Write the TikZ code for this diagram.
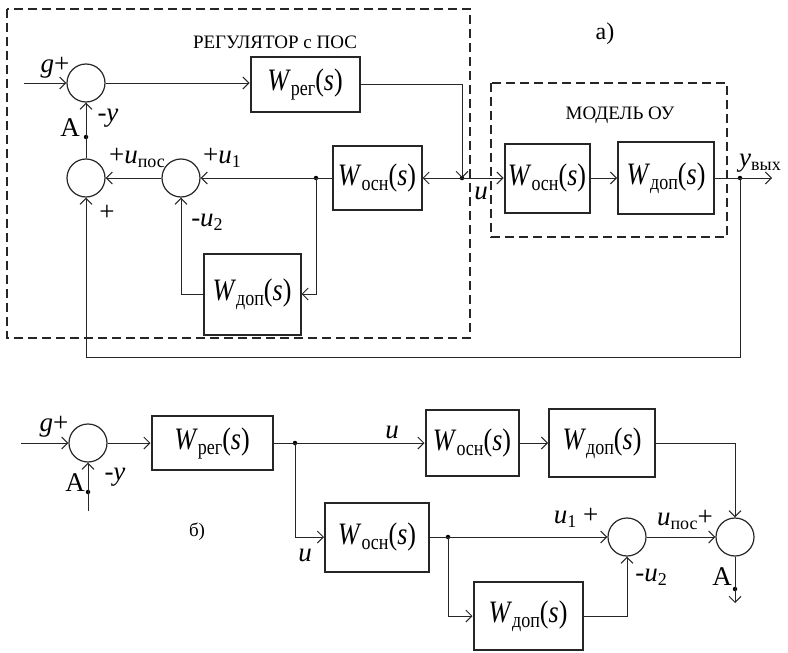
\documentclass[tikz,border=0pt]{standalone}
\usepackage{fontspec}
\setmainfont{Liberation Serif}
\usetikzlibrary{arrows.meta}
\newcommand{\lsub}[1]{\raisebox{-0.35ex}{\fontsize{18}{18}\selectfont #1}}
\newcommand{\wtf}[1]{\scalebox{1}[1.2]{\textit{W}\lsub{#1}(\textit{s})}}

\begin{document}
\begin{tikzpicture}[x=1pt,y=-1pt,
  >={Straight Barb[length=6pt,width=12pt]},
  line width=1pt, draw=black!85,
  blk/.style={draw,line width=2pt,inner sep=0pt,font=\fontsize{26}{26}\selectfont},
  sum/.style={draw,circle,line width=1.2pt,minimum size=38,inner sep=0pt},
  dot/.style={circle,fill,inner sep=0pt,minimum size=4.5},
  lbl/.style={inner sep=0pt,font=\fontsize{27}{27}\selectfont},
  ttl/.style={inner sep=0pt,font=\fontsize{19}{19}\selectfont},
  frame/.style={line width=2pt,dash pattern=on 9pt off 5pt}]
\useasboundingbox (0,0) rectangle (788,653);

% а) регулятор с ПОС и модель ОУ
\draw[frame] (7,9) rectangle (470,338);
\draw[frame] (491,83) rectangle (727,237);
\node[ttl] (tReg) at (275,42) {РЕГУЛЯТОР с ПОС};
\node[ttl] (tMod) at (620,115) {МОДЕЛЬ ОУ};
\node[ttl,font=\fontsize{24}{24}\selectfont] (tA) at (605,34) {а)};

\node[sum] (s1) at (86,83) {};
\node[sum] (s2) at (86,178) {};
\node[sum] (s3) at (181,178) {};
\node[blk,minimum width=109,minimum height=55] (wreg) at (305,84) {\wtf{рег}};
\node[blk,minimum width=89,minimum height=64] (wosnA) at (377,178) {\wtf{осн}};
\node[blk,minimum width=97,minimum height=81] (wdopA) at (252,294) {\wtf{доп}};
\node[blk,minimum width=85,minimum height=69] (wosnM) at (547,178) {\wtf{осн}};
\node[blk,minimum width=96,minimum height=72] (wdopM) at (666,178) {\wtf{доп}};
\node[dot] (jA) at (316,178) {};
\node[dot] (uA) at (462,178) {};
\node[dot] (pA) at (86,137) {};
\node[dot] (yA) at (740,178) {};
\coordinate (inA) at (24,83);
\coordinate (cA) at (462,84);
\coordinate (outA) at (772,178);
\coordinate (fbA) at (740,357);

\draw[->] (inA) -- (s1);
\draw[->] (s1) -- (s1 -| wreg.west);
\draw[->] (wreg.east) -- (cA) -- (uA.center);
\draw[->] (uA.center) -- (wosnM);
\draw[->] (uA.center) -- (wosnA);
\draw[->] (wosnA) -- (s3);
\draw[->] (jA.center) |- (wdopA);
\draw[->] (wdopA) -| (s3);
\draw[->] (s3) -- (s2);
\draw[->] (s2) -- (s1);
\draw[->] (wosnM) -- (wdopM);
\draw[->] (wdopM) -- (outA);
\draw[->] (yA.center) -- (fbA) -| (s2);

\node[lbl] (gA) at (55,68) {\textit{g}+};
\node[lbl] (aA) at (70,128) {А};
\node[lbl] (yfA) at (108,118) {-\textit{y}};
\node[lbl] (upA) at (137,158) {+\textit{u}\lsub{пос}};
\node[lbl] (u1A) at (222,158) {+\textit{u}\lsub{1}};
\node[lbl] (u2A) at (207,222) {-\textit{u}\lsub{2}};
\node[lbl] (plA) at (107,213) {+};
\node[lbl] (uuA) at (481,193) {\textit{u}};
\node[lbl] (yvA) at (760,163) {\textit{y}\lsub{вых}};

% б) эквивалентная схема
\node[sum] (sb1) at (88,443) {};
\node[sum] (sb2) at (627,537) {};
\node[sum] (sb3) at (735,537) {};
\node[blk,minimum width=121,minimum height=54] (wregB) at (212,443) {\wtf{рег}};
\node[blk,minimum width=93,minimum height=66] (wosnT) at (472,443) {\wtf{осн}};
\node[blk,minimum width=106,minimum height=68] (wdopT) at (602,443) {\wtf{доп}};
\node[blk,minimum width=104,minimum height=69] (wosnL) at (377,537) {\wtf{осн}};
\node[blk,minimum width=109,minimum height=68] (wdopL) at (528,616) {\wtf{доп}};
\node[dot] (jB) at (295,443) {};
\node[dot] (jB2) at (448,537) {};
\node[dot] (pB) at (88,492) {};
\node[dot] (pB2) at (735,589) {};
\coordinate (inB) at (21,443);
\coordinate (inB2) at (88,511);
\coordinate (outB) at (735,603);

\draw[->] (inB) -- (sb1);
\draw[->] (sb1) -- (wregB);
\draw (wregB) -- (jB.center);
\draw[->] (jB.center) -- (wosnT);
\draw[->] (wosnT) -- (wdopT);
\draw[->] (wdopT) -| (sb3);
\draw[->] (jB.center) |- (wosnL);
\draw[->] (wosnL) -- (sb2);
\draw[->] (jB2.center) |- (wdopL);
\draw[->] (wdopL) -| (sb2);
\draw[->] (sb2) -- (sb3);
\draw[->] (sb3) -- (outB);
\draw[->] (inB2) -- (sb1);

\node[lbl] (gB) at (54,427) {\textit{g}+};
\node[lbl] (aB) at (75,483) {А};
\node[lbl] (yfB) at (115,477) {-\textit{y}};
\node[lbl] (uB) at (392,432) {\textit{u}};
\node[lbl] (uB2) at (305,555) {\textit{u}};
\node[ttl] (tB) at (197,532) {б)};
\node[lbl] (u1B) at (576,518) {\textit{u}\lsub{1} +};
\node[lbl] (upB) at (685,520) {\textit{u}\lsub{пос}+};
\node[lbl] (u2B) at (651,577) {-\textit{u}\lsub{2}};
\node[lbl] (aB2) at (722,577) {А};
\end{tikzpicture}
\end{document}
